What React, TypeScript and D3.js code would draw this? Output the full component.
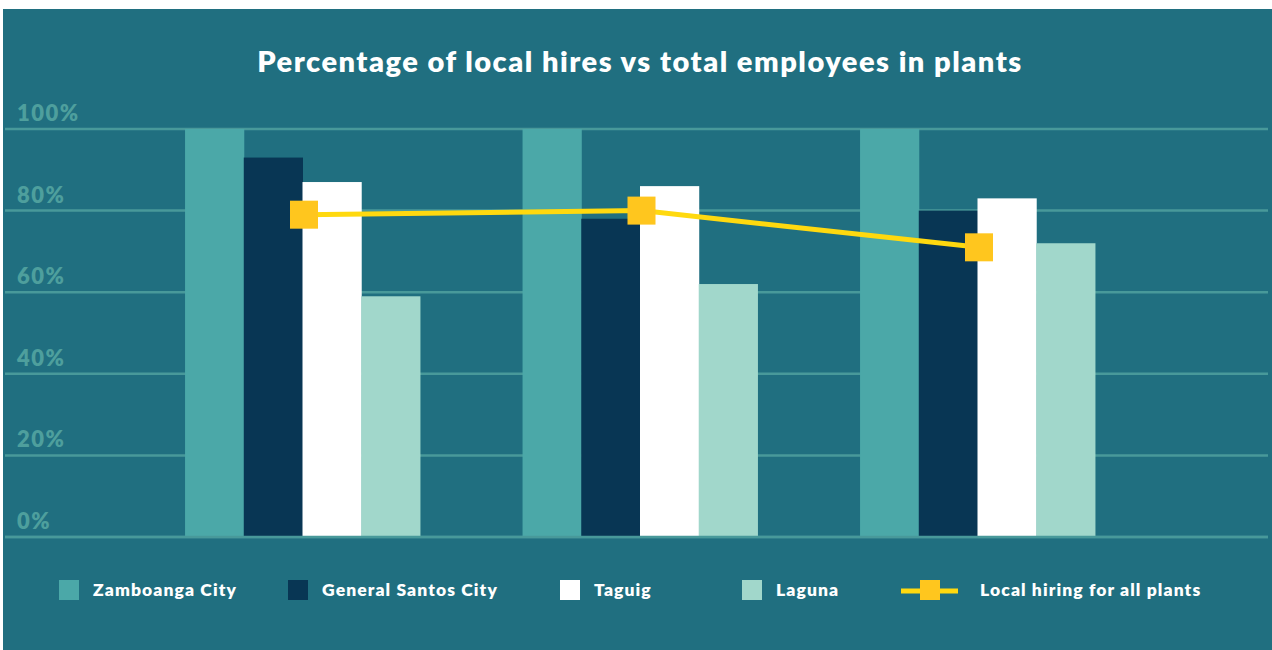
import * as d3 from "d3";

// chart data
const cities = ["Zamboanga City", "General Santos City", "Taguig", "Laguna"];
const groups = ["Group 1", "Group 2", "Group 3"];
const zamboanga = [100, 100, 100];
const generalSantos = [93, 78, 80];
const taguig = [87, 86, 83];
const laguna = [59, 62, 72];
const localHiring = [79, 80, 71];
const lineLabel = "Local hiring for all plants";
const yTicks = [0, 20, 40, 60, 80, 100];
const title = "Percentage of local hires vs total employees in plants";

const W = 1272, H = 650;
const colors = ["#4ba8a8", "#083654", "#ffffff", "#a1d7cb"];
const bg = "#206f80";
const gridColor = "#48999a";
const tickColor = "#4e9f9d";
const FONT = "Lato, 'Open Sans', sans-serif";

const App = () => {
    const series = [zamboanga, generalSantos, taguig, laguna];

    const x0 = d3.scaleBand()
        .domain(groups)
        .range([133.75, 1146.25])
        .paddingInner(0.304)
        .paddingOuter(0.152);

    const x1 = d3.scaleBand()
        .domain(cities)
        .range([0, x0.bandwidth()]);

    const y = d3.scaleLinear()
        .domain([0, 100])
        .range([537, 129]);

    const lineBuilder = d3.line()
        .x((d, i) => x0(groups[i]) + x0.bandwidth() / 2 + 1.5)
        .y(d => y(d));

    // legend slots (x of swatch)
    const legendX = [59, 288, 560, 742];
    const legendY = 590;

    return (
        <svg width={W} height={H} style={{ position: "absolute", left: 0, top: 0 }} fontFamily={FONT}>
            <rect x={0} y={0} width={W} height={H} fill="#ffffff" />
            <rect x={3} y={9} width={W - 3} height={H - 9} fill={bg} />

            <text x={640} y={72} textAnchor="middle" fill="#ffffff" fontSize={29} fontWeight={800} letterSpacing={1.5}>{title}</text>

            {/* grid */}
            {yTicks.map(t => (
                <g key={t}>
                    <line x1={5} x2={1268} y1={y(t)} y2={y(t)} stroke={gridColor} strokeWidth={2.5} />
                    <text x={17} y={y(t) - 8} fill={tickColor} fontSize={22} fontWeight={800} letterSpacing={1.5}>{t + "%"}</text>
                </g>
            ))}

            {/* bars */}
            {groups.map((g, gi) => (
                <g key={g} transform={"translate(" + x0(g) + ",0)"}>
                    {cities.map((c, ci) => (
                        <rect key={c}
                            x={x1(c)}
                            y={y(series[ci][gi])}
                            width={x1.bandwidth() + 0.5}
                            height={y(0) - y(series[ci][gi])}
                            fill={colors[ci]} />
                    ))}
                </g>
            ))}
            <line x1={5} x2={1268} y1={y(0)} y2={y(0)} stroke={gridColor} strokeWidth={2.5} />

            {/* line */}
            <path d={lineBuilder(localHiring)} fill="none" stroke="#ffd90f" strokeWidth={5} />
            {localHiring.map((v, i) => (
                <rect key={i}
                    x={x0(groups[i]) + x0.bandwidth() / 2 + 1.5 - 14}
                    y={y(v) - 14}
                    width={28} height={28}
                    fill="#ffc61e" />
            ))}

            {/* legend */}
            {cities.map((c, i) => (
                <g key={c} transform={"translate(" + legendX[i] + "," + legendY + ")"}>
                    <rect x={0} y={-10} width={20} height={20} fill={colors[i]} />
                    <text x={34} y={6} fill="#ffffff" fontSize={17.5} fontWeight={800} letterSpacing={1.1}>{c}</text>
                </g>
            ))}
            <g transform={"translate(901," + legendY + ")"}>
                <line x1={0} x2={57} y1={1} y2={1} stroke="#ffd90f" strokeWidth={5} />
                <rect x={19} y={-10} width={20} height={20} fill="#ffc61e" />
                <text x={79} y={6} fill="#ffffff" fontSize={17.5} fontWeight={800} letterSpacing={1.1}>{lineLabel}</text>
            </g>
        </svg>
    );
};

export default App;
